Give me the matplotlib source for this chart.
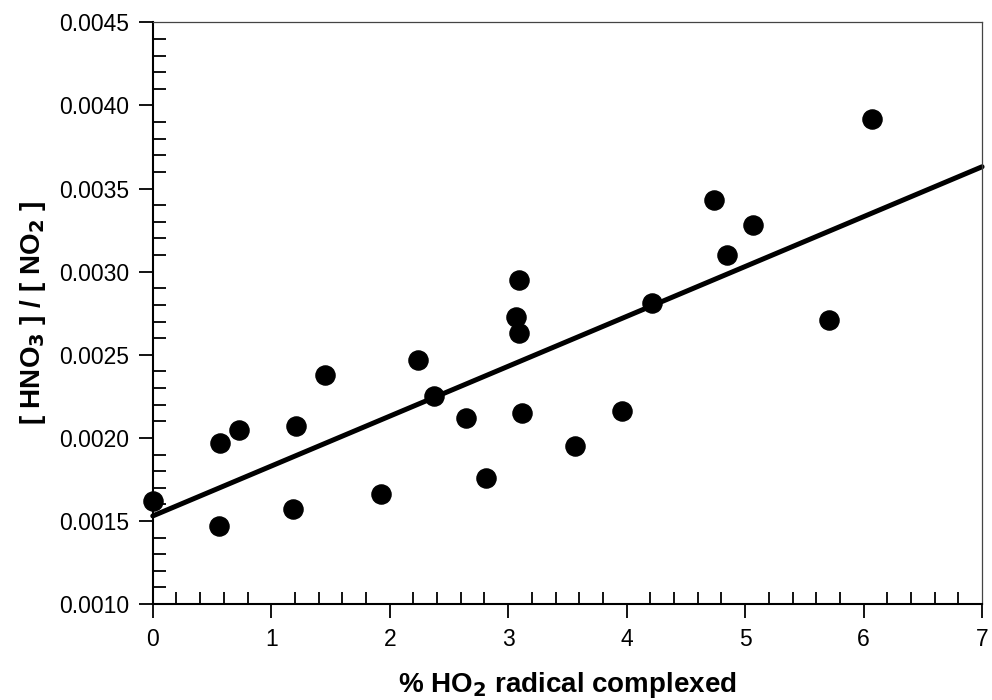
import matplotlib.pyplot as plt
import numpy as np
from matplotlib.ticker import MultipleLocator, FormatStrFormatter

plt.rcParams['font.family'] = ['Liberation Sans', 'DejaVu Sans']

# % HO2 radical complexed vs [HNO3]/[NO2]
pct_complexed = [0.0, 0.56, 0.57, 0.73, 1.18, 1.21, 1.45, 1.93, 2.24, 2.37,
                 2.64, 2.81, 3.07, 3.09, 3.09, 3.12, 3.56, 3.96, 4.21, 4.74,
                 4.85, 5.07, 5.71, 6.07]
ratio = [0.00162, 0.00147, 0.00197, 0.00205, 0.00157, 0.00207, 0.00238,
         0.00166, 0.00247, 0.00225, 0.00212, 0.00176, 0.00273, 0.00295,
         0.00263, 0.00215, 0.00195, 0.00216, 0.00281, 0.00343, 0.00310,
         0.00328, 0.00271, 0.00392]
fit_x = [0, 7]

fig = plt.figure(figsize=(9.92, 7.0), dpi=100)
ax = fig.add_axes([0.154, 0.137, 0.836, 0.831])

ax.scatter(pct_complexed, ratio, s=190, color='black', zorder=3, clip_on=False)

slope, intercept = np.polyfit(pct_complexed, ratio, 1)
ax.plot(fit_x, [intercept + slope * v for v in fit_x], color='black', lw=3.6,
        solid_capstyle='round', clip_on=False)

ax.set_xlim(0, 7)
ax.set_ylim(0.0010, 0.0045)
ax.xaxis.set_major_locator(MultipleLocator(1))
ax.xaxis.set_minor_locator(MultipleLocator(0.2))
ax.yaxis.set_major_locator(MultipleLocator(0.0005))
ax.yaxis.set_minor_locator(MultipleLocator(0.0001))
ax.yaxis.set_major_formatter(FormatStrFormatter('%.4f'))

ax.tick_params(which='major', direction='out', length=10, width=1.3, labelsize=16.5, pad=7)
ax.tick_params(which='minor', direction='in', length=9, width=1.3)

for s in ['left', 'bottom']:
    ax.spines[s].set_linewidth(1.5)
for s in ['top', 'right']:
    ax.spines[s].set_linewidth(0.9)
    ax.spines[s].set_color('#444444')

ax.set_xlabel('% HO$_\\mathbf{2}$ radical complexed', fontsize=20, fontweight='bold', labelpad=14)
ax.set_ylabel('[ HNO$_\\mathbf{3}$ ] / [ NO$_\\mathbf{2}$ ]', fontsize=20, fontweight='bold', labelpad=8)

fig.savefig('out.png', dpi=100)
